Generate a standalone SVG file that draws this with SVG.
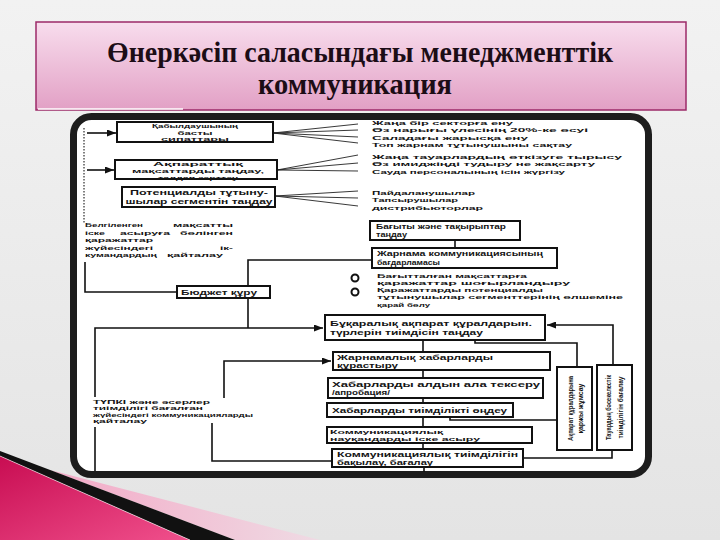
<svg xmlns="http://www.w3.org/2000/svg" width="720" height="540" viewBox="0 0 720 540">
<defs>
<linearGradient id="bg" x1="0" y1="0" x2="0" y2="1"><stop offset="0" stop-color="#f2f2f2"/><stop offset="1" stop-color="#e4e4e4"/></linearGradient>
<linearGradient id="tg" x1="0" y1="0" x2="0" y2="1"><stop offset="0" stop-color="#f8dded"/><stop offset="1" stop-color="#e2a0c5"/></linearGradient>
<linearGradient id="pk" x1="0" y1="0" x2="1" y2="1"><stop offset="0" stop-color="#c80d52"/><stop offset="1" stop-color="#f0508c"/></linearGradient>
<linearGradient id="lp" x1="0" y1="0" x2="1" y2="0"><stop offset="0" stop-color="#f3a9c6"/><stop offset="1" stop-color="#efdbe4"/></linearGradient>
<marker id="ah" markerWidth="9" markerHeight="7" refX="9" refY="3.5" orient="auto" markerUnits="userSpaceOnUse"><path d="M0,0 L9,3.5 L0,7 z" fill="#111"/></marker>
</defs>
<style>
.t{font-family:"Liberation Sans",Arial,sans-serif;font-size:6.1px;font-weight:bold;fill:#141414}
.b{font-size:7px}
.c{text-anchor:middle}
.e{text-anchor:end}
.bx{fill:#fff;stroke:#111;stroke-width:2}
.ln{fill:none;stroke:#111;stroke-width:1.6}
.th{fill:none;stroke:#222;stroke-width:0.9}
.ttl{font-family:"Liberation Serif","Times New Roman",serif;font-size:30px;font-weight:bold;fill:#1c0d16;text-anchor:middle}
</style>
<rect x="0" y="0" width="720" height="540" fill="url(#bg)"/>
<g id="decor">
<polygon points="50,470 320,540 235,540" fill="url(#lp)"/>
<polygon points="0,451 235,540 190,540 0,456" fill="#111"/>
<polygon points="0,456 190,540 0,540" fill="url(#pk)"/>
<line x1="0" y1="456" x2="190" y2="540" stroke="#fff" stroke-width="0.8" opacity="0.7"/>
</g>
<g id="title">
<rect x="36" y="22" width="650" height="88" fill="url(#tg)" stroke="#9c2a68" stroke-width="1.5"/>
<line x1="38" y1="109" x2="183" y2="109" stroke="#fff" stroke-width="1.5"/>
<text class="ttl" x="360" y="62" textLength="506" lengthAdjust="spacingAndGlyphs">Өнеркәсіп саласындағы менеджменттік</text>
<text class="ttl" x="355" y="94" textLength="194" lengthAdjust="spacingAndGlyphs">коммуникация</text>
</g>
<rect id="frame" x="73.5" y="116.5" width="575" height="358" rx="18" fill="#fff" stroke="#1d1d1d" stroke-width="7"/>
<g id="connectors">
<path class="ln" d="M87,133 H116" marker-end="url(#ah)"/>
<path class="ln" d="M87,170 H114" marker-end="url(#ah)"/>
<path d="M84,128 V223" stroke="#555" stroke-width="1.5" stroke-dasharray="1.5 1.5" fill="none"/>
<path class="th" d="M273,133 L358,124 M273,133 L358,130 M273,133 L358,137 M273,133 L358,143"/>
<path class="th" d="M277,170 L358,155 M277,170 L358,163 M277,170 L358,171"/>
<path class="th" d="M275,196 L358,191 M275,196 L358,198 M275,196 L358,206"/>
<path class="ln" d="M455,240 V248"/>
<path class="ln" d="M372,260 H248 V286"/>
<path class="ln" d="M177,292 H85 V262"/>
<path class="ln" d="M248,298 V328"/>
<path class="ln" d="M95,397 V328 H323" marker-end="url(#ah)"/>
<path class="ln" d="M95,427 V471"/>
<path class="ln" d="M224,398 V361 H331" marker-end="url(#ah)"/>
<path class="ln" d="M212,423 V461 H332"/>
<path class="ln" d="M423,340 V352 M423,370 V378 M423,398 V403 M423,417 V427 M423,443 V449 M424,467 V472"/>
<path class="ln" d="M450,417 V420 H557"/>
<path class="ln" d="M475,340 V343 H577 V367"/>
<path class="ln" d="M613,365 V325 H547" marker-end="url(#ah)"/>
<path class="ln" d="M523,458 H612 V450"/>
</g>
<g id="n1"><rect class="bx" x="117" y="122" width="156" height="20"/>
<text class="t c" x="195" y="127.5" textLength="86" lengthAdjust="spacingAndGlyphs">Қабылдаушының</text>
<text class="t c" x="195" y="134.5" textLength="35" lengthAdjust="spacingAndGlyphs">басты</text>
<text class="t c" x="195" y="141" textLength="68" lengthAdjust="spacingAndGlyphs">сипаттары</text></g>
<g id="n2"><rect class="bx" x="115" y="160" width="162" height="19"/>
<text class="t c" x="198" y="165.5" textLength="90" lengthAdjust="spacingAndGlyphs">Ақпараттық</text>
<text class="t c" x="198" y="172.5" textLength="132" lengthAdjust="spacingAndGlyphs">мақсаттарды таңдау,</text>
<text class="t c" x="198" y="179.5" textLength="80" lengthAdjust="spacingAndGlyphs">талдап зерттеу</text></g>
<g id="n3"><rect class="bx" x="122" y="187" width="153" height="20"/>
<text class="t b c" x="199" y="195" textLength="138" lengthAdjust="spacingAndGlyphs">Потенциалды тұтыну-</text>
<text class="t b c" x="199" y="204" textLength="147" lengthAdjust="spacingAndGlyphs">шылар сегментін таңдау</text></g>
<g id="g1">
<text class="t" x="372" y="125" textLength="141" lengthAdjust="spacingAndGlyphs">Жаңа бір секторға ену</text>
<text class="t" x="372" y="132" textLength="216" lengthAdjust="spacingAndGlyphs">Өз нарығы үлесінің 20%-ке өсуі</text>
<text class="t" x="372" y="139.5" textLength="156" lengthAdjust="spacingAndGlyphs">Саладағы жарысқа ену</text>
<text class="t" x="372" y="146.5" textLength="200" lengthAdjust="spacingAndGlyphs">Топ жарнам тұтынушыны сақтау</text></g>
<g id="g2">
<text class="t" x="372" y="158.5" textLength="250" lengthAdjust="spacingAndGlyphs">Жаңа тауарлардың өткізуге тырысу</text>
<text class="t" x="372" y="166" textLength="223" lengthAdjust="spacingAndGlyphs">Өз имиджіңді тудыру не жақсарту</text>
<text class="t" x="372" y="173.5" textLength="193" lengthAdjust="spacingAndGlyphs">Сауда персоналының ісін жүргізу</text></g>
<g id="g3">
<text class="t" x="372" y="194.5" textLength="103" lengthAdjust="spacingAndGlyphs">Пайдаланушылар</text>
<text class="t" x="372" y="202" textLength="86" lengthAdjust="spacingAndGlyphs">Тапсырушылар</text>
<text class="t" x="372" y="209.5" textLength="111" lengthAdjust="spacingAndGlyphs">дистрибьюторлар</text></g>
<g id="n4"><rect class="bx" x="370" y="221" width="150" height="19"/>
<text class="t b" x="376" y="228.5" textLength="130" lengthAdjust="spacingAndGlyphs">Бағыты және тақырыптар</text>
<text class="t b" x="376" y="236.5" textLength="31" lengthAdjust="spacingAndGlyphs">таңдау</text></g>
<g id="n5"><rect class="bx" x="372" y="248" width="185" height="20"/>
<text class="t b" x="377" y="256" textLength="166" lengthAdjust="spacingAndGlyphs">Жарнама коммуникациясының</text>
<text class="t b" x="377" y="264.5" textLength="63" lengthAdjust="spacingAndGlyphs">бағдарламасы</text></g>
<g id="o1"><circle cx="355" cy="278" r="3.5" fill="#fff" stroke="#111" stroke-width="2"/>
<text class="t" x="377" y="277.5" textLength="150" lengthAdjust="spacingAndGlyphs">Бағытталған мақсаттарға</text>
<text class="t" x="377" y="284.5" textLength="193" lengthAdjust="spacingAndGlyphs">қаражаттар шоғырландыру</text></g>
<g id="o2"><circle cx="355" cy="292" r="3.5" fill="#fff" stroke="#111" stroke-width="2"/>
<text class="t" x="377" y="292" textLength="166" lengthAdjust="spacingAndGlyphs">Қаражаттарды потенциалды</text>
<text class="t" x="377" y="299" textLength="246" lengthAdjust="spacingAndGlyphs">тұтынушылар сегменттерінің өлшеміне</text>
<text class="t" x="377" y="306.5" textLength="53" lengthAdjust="spacingAndGlyphs">қарай бөлу</text></g>
<g id="lt1">
<text class="t" x="85" y="227" textLength="58" lengthAdjust="spacingAndGlyphs">Белгіленген</text><text class="t e" x="233" y="227" textLength="60" lengthAdjust="spacingAndGlyphs">мақсатты</text>
<text class="t" x="85" y="234.5" textLength="20" lengthAdjust="spacingAndGlyphs">іске</text><text class="t" x="120" y="234.5" textLength="50" lengthAdjust="spacingAndGlyphs">асыруға</text><text class="t e" x="233" y="234.5" textLength="53" lengthAdjust="spacingAndGlyphs">бөлінген</text>
<text class="t" x="85" y="242" textLength="68" lengthAdjust="spacingAndGlyphs">қаражаттар</text>
<text class="t" x="85" y="249.5" textLength="68" lengthAdjust="spacingAndGlyphs">жүйесіндегі</text><text class="t e" x="233" y="249.5" textLength="13" lengthAdjust="spacingAndGlyphs">ік-</text>
<text class="t" x="85" y="257" textLength="72" lengthAdjust="spacingAndGlyphs">кумандардың</text><text class="t" x="167" y="257" textLength="56" lengthAdjust="spacingAndGlyphs">қайталау</text></g>
<g id="n6"><rect class="bx" x="177" y="286" width="93" height="12"/>
<text class="t b" x="181" y="294.5" textLength="76" lengthAdjust="spacingAndGlyphs">Бюджет құру</text></g>
<g id="n7"><rect class="bx" x="325" y="315" width="220" height="25"/>
<text class="t b" x="330" y="326" textLength="202" lengthAdjust="spacingAndGlyphs">Бұқаралық ақпарат құралдарын.</text>
<text class="t b" x="330" y="335" textLength="153" lengthAdjust="spacingAndGlyphs">түрлерін тиімдісін таңдау</text></g>
<g id="n8"><rect class="bx" x="333" y="352" width="217" height="18"/>
<text class="t b" x="337" y="359.5" textLength="156" lengthAdjust="spacingAndGlyphs">Жарнамалық хабарларды</text>
<text class="t b" x="337" y="367.5" textLength="61" lengthAdjust="spacingAndGlyphs">құрастыру</text></g>
<g id="n9"><rect class="bx" x="328" y="378" width="215" height="20"/>
<text class="t b" x="332" y="386.5" textLength="208" lengthAdjust="spacingAndGlyphs">Хабарларды алдын ала тексеру</text>
<text class="t b" x="332" y="395" textLength="58" lengthAdjust="spacingAndGlyphs">/апробация/</text></g>
<g id="n10"><rect class="bx" x="327" y="403" width="186" height="14"/>
<text class="t b" x="332" y="412.5" textLength="175" lengthAdjust="spacingAndGlyphs">Хабарларды тиімділікті өңдеу</text></g>
<g id="n11"><rect class="bx" x="327" y="427" width="205" height="16"/>
<text class="t" x="330" y="433.5" textLength="113" lengthAdjust="spacingAndGlyphs">Коммуникациялық</text>
<text class="t" x="330" y="441" textLength="150" lengthAdjust="spacingAndGlyphs">науқандарды іске асыру</text></g>
<g id="n12"><rect class="bx" x="332" y="449" width="191" height="18"/>
<text class="t b" x="337" y="456.5" textLength="181" lengthAdjust="spacingAndGlyphs">Коммуникациялық тиімділігін</text>
<text class="t b" x="337" y="464.5" textLength="96" lengthAdjust="spacingAndGlyphs">бақылау, бағалау</text></g>
<g id="lt2">
<text class="t" x="93" y="403.5" textLength="117" lengthAdjust="spacingAndGlyphs">ТҮПКІ және әсерлер</text>
<text class="t" x="93" y="410" textLength="110" lengthAdjust="spacingAndGlyphs">тиімділігі бағалған</text>
<text class="t" x="93" y="416.5" textLength="160" lengthAdjust="spacingAndGlyphs">жүйесіндегі коммуникацияларды</text>
<text class="t" x="93" y="423" textLength="54" lengthAdjust="spacingAndGlyphs">қайталау</text></g>
<g id="v1"><rect class="bx" x="557" y="367" width="35" height="83"/>
<g transform="translate(574.5,408.5) rotate(-90)">
<text class="t b c" x="0" y="-2" textLength="65" lengthAdjust="spacingAndGlyphs">Ақпарат құралдарына</text>
<text class="t b c" x="0" y="8" textLength="50" lengthAdjust="spacingAndGlyphs">қаржы жұмсау</text></g></g>
<g id="v2"><rect class="bx" x="597" y="365" width="35" height="85"/>
<g transform="translate(614.5,407.5) rotate(-90)">
<text class="t b c" x="0" y="-4" textLength="65" lengthAdjust="spacingAndGlyphs">Тауардың бәсекелестік</text>
<text class="t b c" x="0" y="8" textLength="62" lengthAdjust="spacingAndGlyphs">тиімділігін бағалау</text></g></g>
</svg>
